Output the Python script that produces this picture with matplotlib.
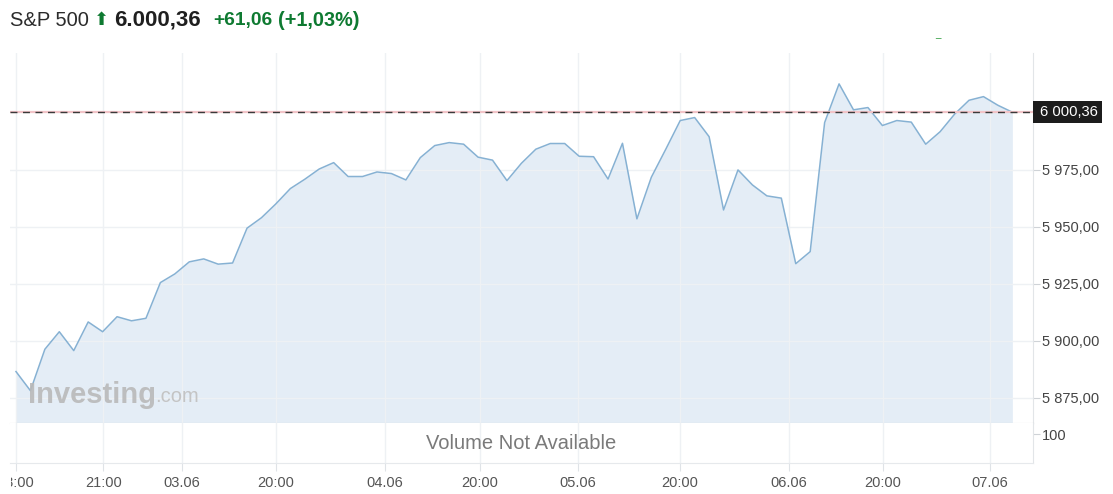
import matplotlib.pyplot as plt
from matplotlib.patches import Rectangle
from matplotlib.transforms import Bbox
import numpy as np

# S&P 500 price points (one per interval)
prices = [5886.4, 5878.0, 5896.2, 5903.9, 5895.6, 5908.2, 5903.9, 5910.5, 5908.7, 5909.8,
          5925.5, 5929.3, 5934.6, 5935.9, 5933.6, 5934.1, 5949.4, 5954.0, 5960.1, 5966.8,
          5970.9, 5975.4, 5978.2, 5972.1, 5972.1, 5974.1, 5973.4, 5970.6, 5980.4, 5985.7,
          5987.0, 5986.3, 5980.6, 5979.3, 5970.3, 5977.9, 5984.1, 5986.6, 5986.6, 5981.0,
          5980.8, 5971.0, 5986.7, 5953.5, 5971.8, 5984.1, 5996.7, 5998.0, 5989.6, 5957.4,
          5975.0, 5968.4, 5963.6, 5962.6, 5933.8, 5939.1, 5995.8, 6012.8, 6001.4, 6002.4,
          5994.5, 5996.7, 5996.0, 5986.3, 5991.8, 5999.5, 6005.6, 6007.2, 6003.4, 6000.36]
last_price = 6000.36

# time axis labels and where they fall on the point index
tick_labels = ["18:00", "21:00", "03.06", "20:00", "04.06", "20:00",
               "05.06", "20:00", "06.06", "20:00", "07.06"]
tick_idx = [0, 6.05, 11.5, 18, 25.55, 32.13, 38.92, 45.98, 53.53, 60.04, 67.45]
price_ticks = [5875, 5900, 5925, 5950, 5975]

plt.rcParams['font.family'] = ['Liberation Sans', 'DejaVu Sans']

W, H = 1113, 494
fig = plt.figure(figsize=(W / 100, H / 100), dpi=100)


def fx(px):
    return px / W


def fy(py):
    return 1 - py / H


def fmt(v):
    s = "{:,.2f}".format(v)
    return s.replace(",", " ").replace(".", ",")


left, right = fx(10), fx(1033)
ax = fig.add_axes([left, fy(423), right - left, fy(52.7) - fy(423)])
vax = fig.add_axes([left, fy(463.3), right - left, fy(423) - fy(463.3)])

x = np.arange(len(prices))
line_col = "#86b1d3"
fill_col = "#e4edf6"

ax.fill_between(x, prices, 5800, color=fill_col, lw=0, zorder=1)
ax.plot(x, prices, color=line_col, lw=1.1, zorder=3)

# current price line: pink base with dark dashes on top
ax.axhline(last_price, color="#f2c4c8", lw=1.6, zorder=4)
ax.axhline(last_price, color="#3a3a3a", lw=1.0, dashes=(5, 4), zorder=5)

xmin, xmax = -0.415, 70.43
ax.set_xlim(xmin, xmax)
ax.set_ylim(5863.8, 6026.5)
vax.set_xlim(xmin, xmax)
vax.set_ylim(0, 138)

grid_col = "#eef1f4"
for a in (ax, vax):
    a.set_xticks(tick_idx)
    a.grid(True, axis="x", color=grid_col, lw=1, zorder=0)
    a.yaxis.tick_right()
    a.tick_params(axis="y", length=5, color="#cfd3d7", labelsize=10.5,
                  labelcolor="#444444", pad=1.5)
    a.tick_params(axis="x", length=6, color="#dfe3e7")
    for s in ("top", "left"):
        a.spines[s].set_visible(False)
    a.spines["right"].set_color("#e2e5e8")

ax.set_yticks(price_ticks)
ax.set_yticklabels([fmt(v) for v in price_ticks])
ax.grid(True, axis="y", color=grid_col, lw=1, zorder=0)
ax.tick_params(axis="x", length=0, labelbottom=False)
ax.spines["bottom"].set_color("#c9cdd1")

vax.set_yticks([100])
vax.set_yticklabels(["100"])
vax.set_xticklabels(tick_labels)
vax.tick_params(axis="x", labelsize=10.5, labelcolor="#555555", pad=3)
vax.spines["bottom"].set_color("#e6e9ec")
vax.text(0.5, 0.5, "Volume Not Available", transform=vax.transAxes,
         ha="center", va="center", fontsize=14.5, color="#7a7a7a")

# the first time label is cut at the left edge of the chart, as in the original
first = vax.get_xticklabels()[0]
first.set_clip_box(Bbox([[11, 0], [W, H]]))
first.set_clip_on(True)

# last price label box on the right axis
box_y = ax.transData.transform((0, last_price))[1] / H
fig.patches.append(Rectangle((fx(1033), box_y - 11 / H), fx(1102) - fx(1033), 22 / H,
                             transform=fig.transFigure, fc="#1c1c1c", ec="none", zorder=9))
fig.text(fx(1040), box_y, fmt(last_price), ha="left", va="center",
         fontsize=10.6, color="white", zorder=10)

# watermark
fig.text(fx(28), fy(395), "Investing", fontsize=21, fontweight="bold",
         color="#b9b9b9", va="center", ha="left", alpha=0.9)
fig.text(fx(155), fy(397), ".com", fontsize=14.5, color="#c4c4c4",
         va="center", ha="left")

# header
fig.text(fx(10), fy(20), "S&P 500", fontsize=14.5, color="#2b2b2b", va="center")
fig.text(fx(94), fy(20), "\u2b06", fontsize=13, color="#0e7a31", va="center",
         family="DejaVu Sans")
fig.text(fx(114), fy(20), "6.000,36", fontsize=16, fontweight="bold",
         color="#1f1f1f", va="center")
fig.text(fx(213), fy(20), "+61,06", fontsize=13.8, fontweight="bold",
         color="#0e7a31", va="center")
fig.text(fx(278), fy(20), "(+1,03%)", fontsize=14.3, fontweight="bold",
         color="#0e7a31", va="center")
fig.text(fx(935), fy(34), "_", fontsize=7, color="#2a9a3a", va="center")

fig.savefig("out.png", dpi=100)
